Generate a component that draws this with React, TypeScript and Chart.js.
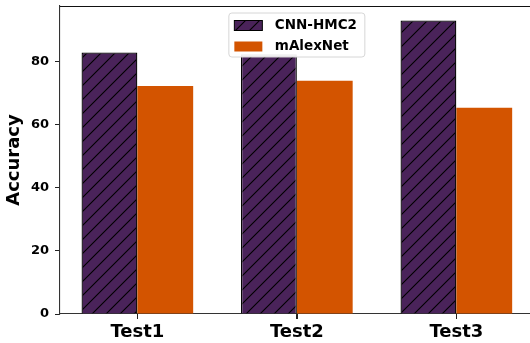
import React, { useEffect, useRef } from "react";
import { Chart, registerables } from "chart.js";

Chart.register(...registerables);

const categories = ["Test1", "Test2", "Test3"];
const cnnHmc2 = [82.8, 82.2, 92.9];
const mAlexNet = [72.2, 73.8, 65.3];
const yTicks = [0, 20, 40, 60, 80];
const seriesNames = ["CNN-HMC2", "mAlexNet"];

const PURPLE = "#4a235a";
const ORANGE = "#d35400";
const FONT = "'DejaVu Sans', sans-serif";

function makeHatch(): CanvasPattern | string {
  const s = 14;
  const c = document.createElement("canvas");
  c.width = s;
  c.height = s;
  const g = c.getContext("2d");
  if (!g) return PURPLE;
  g.fillStyle = PURPLE;
  g.fillRect(0, 0, s, s);
  g.strokeStyle = "#000";
  g.lineWidth = 1.1;
  g.beginPath();
  g.moveTo(-2, s + 2);
  g.lineTo(s + 2, -2);
  g.moveTo(-2, 2);
  g.lineTo(2, -2);
  g.moveTo(s - 2, s + 2);
  g.lineTo(s + 2, s - 2);
  g.stroke();
  const p = g.createPattern(c, "repeat");
  return p || PURPLE;
}

export default function App() {
  const ref = useRef<HTMLCanvasElement>(null);

  useEffect(() => {
    if (!ref.current) return;
    const hatch = makeHatch();

    const framePlugin = {
      id: "frameAndLegend",
      afterDraw(chart: any) {
        const { ctx, chartArea } = chart;
        ctx.save();
        // top / right spines
        ctx.strokeStyle = "#111";
        ctx.lineWidth = 1.1;
        ctx.beginPath();
        ctx.moveTo(chartArea.left, chartArea.top + 0.5);
        ctx.lineTo(chartArea.right, chartArea.top + 0.5);
        ctx.moveTo(chartArea.right - 0.5, chartArea.top);
        ctx.lineTo(chartArea.right - 0.5, chartArea.bottom);
        ctx.stroke();

        // x tick marks at category positions
        const xs = chart.scales.x;
        ctx.strokeStyle = "#222";
        ctx.lineWidth = 1;
        ctx.beginPath();
        categories.forEach((_, i) => {
          const px = Math.round(xs.getPixelForValue(i)) + 0.5;
          ctx.moveTo(px, chartArea.bottom);
          ctx.lineTo(px, chartArea.bottom + 5);
        });
        ctx.stroke();

        // legend (upper center)
        const cx = (chartArea.left + chartArea.right) / 2;
        const fw = 136;
        const fh = 44;
        const fl = cx - fw / 2;
        const ft = chartArea.top + 7;
        const r = 3;
        ctx.beginPath();
        ctx.moveTo(fl + r, ft);
        ctx.lineTo(fl + fw - r, ft);
        ctx.quadraticCurveTo(fl + fw, ft, fl + fw, ft + r);
        ctx.lineTo(fl + fw, ft + fh - r);
        ctx.quadraticCurveTo(fl + fw, ft + fh, fl + fw - r, ft + fh);
        ctx.lineTo(fl + r, ft + fh);
        ctx.quadraticCurveTo(fl, ft + fh, fl, ft + fh - r);
        ctx.lineTo(fl, ft + r);
        ctx.quadraticCurveTo(fl, ft, fl + r, ft);
        ctx.closePath();
        ctx.fillStyle = "rgba(255,255,255,0.92)";
        ctx.fill();
        ctx.strokeStyle = "#d6d6d6";
        ctx.lineWidth = 1;
        ctx.stroke();

        const px = fl + 5.5;
        const pw = 28;
        const ph = 10;
        const rows = [ft + 7.5, ft + 28.5];
        ctx.fillStyle = hatch as any;
        ctx.fillRect(px, rows[0], pw, ph);
        ctx.strokeStyle = "#000";
        ctx.lineWidth = 1;
        ctx.strokeRect(px, rows[0], pw, ph);
        ctx.fillStyle = ORANGE;
        ctx.fillRect(px, rows[1], pw, ph);

        ctx.fillStyle = "#000";
        ctx.font = `bold 13.5px ${FONT}`;
        ctx.textAlign = "left";
        ctx.textBaseline = "middle";
        ctx.fillText(seriesNames[0], fl + 46, rows[0] + ph / 2);
        ctx.fillText(seriesNames[1], fl + 46, rows[1] + ph / 2);
        ctx.restore();
      },
    };

    const chart = new Chart(ref.current, {
      type: "bar",
      data: {
        datasets: [
          {
            label: seriesNames[0],
            data: categories.map((_, i) => ({ x: i, y: cnnHmc2[i] })),
            backgroundColor: hatch as any,
            borderColor: "#000",
            borderWidth: 1.3,
          },
          {
            label: seriesNames[1],
            data: categories.map((_, i) => ({ x: i, y: mAlexNet[i] })),
            backgroundColor: ORANGE,
            borderWidth: 0,
          },
        ],
      },
      plugins: [framePlugin],
      options: {
        responsive: false,
        animation: false,
        devicePixelRatio: 1,
        layout: { padding: { top: 6, right: 2.3, left: 0, bottom: 0 } },
        datasets: { bar: { categoryPercentage: 0.7, barPercentage: 1.0 } },
        plugins: {
          legend: { display: false },
          tooltip: { enabled: false },
          title: { display: false },
        },
        scales: {
          x: {
            type: "linear",
            min: -0.485,
            max: 2.485,
            offset: false,
            afterBuildTicks: (scale: any) => {
              scale.ticks = categories.map((_, i) => ({ value: i }));
            },
            afterFit: (scale: any) => {
              scale.height = 29;
              scale.paddingLeft = 0;
              scale.paddingRight = 0;
            },
            grid: {
              offset: false,
              drawOnChartArea: false,
              drawTicks: true,
              tickLength: 5,
              tickColor: "#222",
              tickWidth: 1,
            },
            border: { display: true, color: "#333", width: 1.1 },
            ticks: {
              autoSkip: false,
              maxRotation: 0,
              padding: 3,
              color: "#000",
              font: { family: FONT, size: 18, weight: "bold" },
              callback: (v: any) => categories[Math.round(Number(v))] ?? "",
            },
          },
          y: {
            min: 0,
            max: 97.5,
            afterBuildTicks: (scale: any) => {
              scale.ticks = yTicks.map((v) => ({ value: v }));
            },
            afterFit: (scale: any) => {
              scale.width = 60;
              scale.paddingTop = 0;
              scale.paddingBottom = 0;
            },
            grid: {
              drawOnChartArea: false,
              drawTicks: true,
              tickLength: 5,
              tickColor: "#222",
              tickWidth: 1,
            },
            border: { display: true, color: "#333", width: 1.1 },
            ticks: {
              padding: 6,
              color: "#000",
              font: { family: FONT, size: 13, weight: "bold" },
            },
            title: {
              display: true,
              text: "Accuracy",
              color: "#000",
              font: { family: FONT, size: 18, weight: "bold" },
              padding: { top: 4, bottom: 0 },
            },
          },
        },
      },
    });
    return () => chart.destroy();
  }, []);

  return (
    <div
      style={{
        position: "fixed",
        left: 0,
        top: 0,
        width: 530,
        height: 343,
        overflow: "hidden",
        background: "#fff",
      }}
    >
      <canvas ref={ref} width={536} height={343} style={{ display: "block" }} />
    </div>
  );
}
